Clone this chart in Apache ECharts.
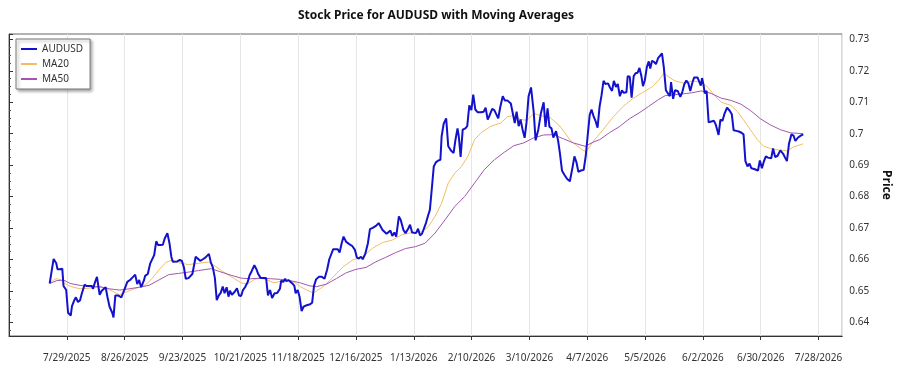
<!DOCTYPE html>
<html>
<head>
<meta charset="utf-8">
<title>AUDUSD</title>
<script src="https://cdn.jsdelivr.net/npm/echarts@6/dist/echarts.min.js"></script>
<style>
html,body{margin:0;padding:0;background:#fff;}
#chart{width:900px;height:375px;}
</style>
</head>
<body>
<div id="chart"></div>
<script>
// day offsets counted from 7/1/2025, price values
var baseDate = Date.UTC(2025, 6, 1);
var audusd = [
[19.7,0.6524],[21.6,0.6602],[22.9,0.6588],[23.5,0.6569],[24.8,0.6569],[25.8,0.6571],[26.4,0.6516],[27.7,0.6503],
[28.6,0.6431],[29.9,0.6422],[30.5,0.6452],[31.5,0.6469],[32.4,0.6480],[33.4,0.6465],[34.4,0.6471],[35.3,0.6493],
[36.6,0.6520],[37.6,0.6516],[38.8,0.6516],[40.1,0.6516],[40.7,0.6507],[41.7,0.6529],[42.6,0.6545],[43.9,0.6488],
[44.9,0.6501],[45.8,0.6505],[46.8,0.6512],[47.7,0.6480],[48.7,0.6450],[50.0,0.6431],[50.6,0.6416],[51.5,0.6486],
[52.8,0.6486],[54.4,0.6480],[55.7,0.6501],[57.3,0.6529],[58.6,0.6535],[60.1,0.6545],[61.1,0.6552],[62.1,0.6522],
[63.0,0.6535],[64.0,0.6512],[65.3,0.6533],[65.9,0.6548],[67.2,0.6554],[68.4,0.6588],[69.1,0.6582],[70.3,0.6614],
[71.3,0.6658],[72.2,0.6646],[73.2,0.6646],[74.5,0.6647],[75.4,0.6667],[76.7,0.6684],[77.7,0.6652],[78.6,0.6609],
[79.3,0.6593],[80.2,0.6593],[81.5,0.6594],[82.7,0.6599],[83.7,0.6596],[84.7,0.6575],[85.6,0.6539],[86.9,0.6541],
[88.8,0.6554],[90.4,0.6609],[91.3,0.6611],[92.6,0.6596],[93.9,0.6601],[95.2,0.6607],[96.1,0.6609],[96.8,0.6618],
[97.7,0.6592],[98.7,0.6575],[99.7,0.6541],[100.6,0.6471],[101.6,0.6486],[102.5,0.6494],[103.5,0.6514],[104.4,0.6493],
[105.4,0.6512],[106.3,0.6482],[107.0,0.6501],[107.9,0.6488],[109.2,0.6497],[110.4,0.6509],[111.4,0.6486],[112.4,0.6484],
[113.3,0.6503],[114.3,0.6512],[115.6,0.6529],[116.5,0.6550],[117.5,0.6563],[118.8,0.6582],[119.7,0.6571],[120.7,0.6554],
[121.9,0.6541],[123.2,0.6541],[124.5,0.6541],[125.4,0.6486],[126.4,0.6503],[127.4,0.6478],[128.6,0.6493],[129.9,0.6494],
[131.2,0.6507],[131.8,0.6533],[132.8,0.6529],[133.7,0.6539],[134.3,0.6531],[135.3,0.6535],[136.2,0.6529],[137.2,0.6524],
[138.2,0.6516],[138.8,0.6493],[139.8,0.6503],[140.7,0.6482],[141.7,0.6436],[142.6,0.6450],[144.2,0.6455],[145.8,0.6458],
[146.8,0.6463],[147.7,0.6516],[148.7,0.6537],[150.0,0.6545],[151.5,0.6545],[152.8,0.6539],[154.1,0.6569],[155.1,0.6601],
[156.0,0.6607],[157.0,0.6633],[157.9,0.6636],[159.2,0.6633],[160.1,0.6622],[161.1,0.6652],[162.0,0.6673],[163.3,0.6656],
[164.6,0.6650],[166.2,0.6643],[167.5,0.6631],[168.4,0.6607],[169.4,0.6603],[170.4,0.6609],[171.3,0.6601],[172.5,0.6618],
[173.8,0.6652],[174.8,0.6697],[176.1,0.6701],[177.7,0.6707],[179.0,0.6716],[179.9,0.6720],[180.9,0.6694],[181.8,0.6694],
[182.8,0.6682],[183.7,0.6688],[184.7,0.6692],[185.6,0.6675],[186.6,0.6686],[187.5,0.6673],[188.8,0.6737],[189.7,0.6726],
[191.0,0.6694],[192.0,0.6684],[193.3,0.6698],[194.2,0.6711],[195.2,0.6686],[196.1,0.6682],[197.1,0.6684],[198.1,0.6698],
[199.0,0.6677],[200.0,0.6682],[200.9,0.6688],[201.9,0.6716],[202.8,0.6737],[203.8,0.6758],[204.7,0.6822],[205.7,0.6896],
[206.7,0.6909],[207.9,0.6915],[208.9,0.6917],[209.5,0.6992],[210.5,0.7032],[211.7,0.7049],[212.7,0.6960],[214.0,0.6947],
[215.3,0.6939],[216.2,0.6981],[217.2,0.7017],[217.8,0.6992],[218.7,0.6926],[219.7,0.7013],[221.0,0.7017],[221.9,0.7024],
[222.9,0.7090],[223.9,0.7075],[224.8,0.7124],[225.8,0.7077],[227.0,0.7068],[228.6,0.7068],[229.9,0.7070],[230.8,0.7083],
[231.8,0.7045],[232.7,0.7058],[234.0,0.7079],[235.0,0.7075],[235.9,0.7070],[236.9,0.7049],[237.9,0.7085],[239.1,0.7119],
[240.1,0.7106],[241.3,0.7106],[243.0,0.7096],[243.9,0.7090],[244.9,0.7034],[245.8,0.7070],[246.8,0.7024],[247.7,0.7045],
[248.7,0.7013],[249.7,0.6987],[250.6,0.7036],[251.6,0.7119],[252.8,0.7147],[254.1,0.7068],[255.0,0.6979],[256.3,0.7013],
[257.6,0.7066],[258.9,0.7100],[259.8,0.7022],[260.8,0.7081],[261.7,0.7022],[262.7,0.7017],[263.6,0.6988],[264.9,0.7008],
[265.9,0.6978],[266.8,0.6937],[267.8,0.6882],[269.0,0.6869],[270.3,0.6856],[271.6,0.6849],[272.9,0.6894],[273.8,0.6928],
[274.8,0.6909],[275.7,0.6879],[277.0,0.6883],[278.3,0.6885],[279.3,0.6930],[280.2,0.6992],[281.2,0.7060],[282.1,0.7077],
[283.1,0.7055],[284.0,0.7041],[285.0,0.7019],[286.0,0.7087],[286.9,0.7121],[287.9,0.7168],[288.8,0.7158],[290.1,0.7160],
[291.0,0.7147],[292.0,0.7136],[292.9,0.7168],[293.9,0.7149],[294.8,0.7158],[295.8,0.7119],[296.8,0.7138],[297.7,0.7130],
[299.0,0.7132],[299.6,0.7183],[300.6,0.7181],[301.5,0.7115],[302.5,0.7183],[303.4,0.7192],[304.4,0.7194],[305.3,0.7209],
[306.3,0.7181],[307.0,0.7151],[307.9,0.7170],[308.9,0.7213],[309.8,0.7230],[310.5,0.7207],[311.4,0.7232],[312.4,0.7228],
[313.3,0.7221],[314.3,0.7240],[315.2,0.7234],[316.2,0.7255],[317.1,0.7211],[318.1,0.7138],[319.1,0.7128],[320.0,0.7119],
[320.6,0.7164],[321.6,0.7111],[322.5,0.7138],[323.8,0.7136],[325.1,0.7117],[326.1,0.7134],[327.0,0.7157],[328.0,0.7169],
[329.0,0.7160],[329.9,0.7136],[330.9,0.7162],[331.8,0.7179],[333.4,0.7179],[334.0,0.7179],[335.0,0.7153],[335.6,0.7177],
[336.3,0.7156],[336.9,0.7128],[337.8,0.7136],[338.8,0.7036],[340.1,0.7039],[341.4,0.7041],[342.3,0.7028],[343.6,0.6996],
[344.5,0.7045],[345.5,0.7041],[346.4,0.7062],[347.7,0.7083],[349.0,0.7073],[350.0,0.7062],[350.9,0.7011],[352.2,0.7009],
[353.4,0.7007],[354.7,0.7003],[355.7,0.6998],[356.6,0.6913],[357.6,0.6896],[358.6,0.6905],[359.5,0.6890],[360.8,0.6888],
[361.7,0.6888],[362.7,0.6883],[363.6,0.6915],[364.6,0.6890],[365.5,0.6911],[366.5,0.6928],[367.5,0.6924],[368.4,0.6930],
[369.1,0.6922],[370.0,0.6953],[371.0,0.6926],[372.2,0.6930],[373.5,0.6947],[374.8,0.6937],[375.8,0.6924],[376.7,0.6913],
[377.7,0.6968],[378.9,0.6998],[379.9,0.6994],[380.8,0.6977],[382.1,0.6988],[383.4,0.6994],[384.6,0.6998]
];
var ma20 = [
[19.7,0.6524],[21.9,0.6537],[23.5,0.6539],[25.1,0.6535],[26.7,0.6526],[28.6,0.6518],[31.2,0.6512],[34.4,0.6507],
[39.1,0.6509],[43.9,0.6512],[47.1,0.6509],[50.3,0.6499],[53.5,0.6488],[56.7,0.6497],[59.8,0.6505],[63.0,0.6512],
[66.2,0.6520],[69.4,0.6541],[72.6,0.6567],[75.8,0.6590],[78.9,0.6599],[82.1,0.6590],[86.9,0.6584],[91.7,0.6588],
[96.5,0.6592],[99.7,0.6580],[102.8,0.6565],[106.0,0.6552],[109.2,0.6539],[112.4,0.6526],[115.6,0.6522],[118.8,0.6537],
[121.9,0.6541],[125.1,0.6535],[128.3,0.6526],[131.5,0.6531],[134.7,0.6533],[137.9,0.6529],[141.0,0.6514],[144.2,0.6503],
[147.4,0.6494],[152.2,0.6514],[157.0,0.6545],[161.8,0.6577],[166.5,0.6599],[171.3,0.6609],[176.1,0.6636],[180.9,0.6654],
[185.6,0.6662],[190.4,0.6679],[195.2,0.6686],[200.0,0.6688],[203.1,0.6705],[206.3,0.6737],[209.5,0.6779],[212.7,0.6843],
[215.9,0.6875],[219.1,0.6896],[222.2,0.6928],[225.4,0.6981],[228.6,0.7003],[233.4,0.7024],[238.2,0.7034],[241.3,0.7054],
[244.5,0.7058],[247.7,0.7045],[250.9,0.7043],[254.1,0.7064],[257.3,0.7058],[262.1,0.7051],[266.8,0.7024],[271.6,0.6981],
[273.2,0.6971],[278.0,0.6947],[279.6,0.6943],[282.8,0.6975],[287.5,0.7011],[292.3,0.7051],[297.1,0.7085],[301.9,0.7111],
[306.6,0.7130],[311.4,0.7149],[314.6,0.7170],[317.1,0.7192],[319.4,0.7181],[322.5,0.7168],[327.3,0.7160],[330.5,0.7168],
[335.3,0.7164],[338.5,0.7147],[341.7,0.7121],[344.9,0.7100],[349.6,0.7090],[352.8,0.7070],[356.0,0.7041],[359.2,0.7011],
[362.4,0.6981],[365.5,0.6960],[368.7,0.6953],[371.9,0.6949],[375.1,0.6947],[376.7,0.6945],[379.9,0.6958],[384.6,0.6968]
];
var ma50 = [
[19.7,0.6524],[23.2,0.6533],[26.4,0.6535],[29.6,0.6524],[34.4,0.6518],[39.1,0.6514],[43.9,0.6514],[48.7,0.6507],
[53.5,0.6503],[58.2,0.6507],[63.0,0.6512],[67.8,0.6518],[72.6,0.6535],[77.3,0.6552],[82.1,0.6556],[86.9,0.6560],
[91.7,0.6565],[98.0,0.6571],[102.8,0.6560],[107.6,0.6550],[112.4,0.6541],[117.1,0.6539],[121.9,0.6541],[126.7,0.6539],
[131.5,0.6537],[136.2,0.6533],[141.0,0.6526],[145.8,0.6516],[149.0,0.6514],[153.8,0.6522],[158.6,0.6540],[163.3,0.6558],
[168.1,0.6569],[172.9,0.6575],[177.7,0.6593],[182.4,0.6607],[187.2,0.6622],[192.0,0.6635],[196.8,0.6641],[201.5,0.6652],
[206.3,0.6684],[211.1,0.6726],[215.9,0.6769],[220.6,0.6800],[225.4,0.6843],[230.2,0.6886],[235.0,0.6917],[239.8,0.6941],
[244.5,0.6962],[249.3,0.6971],[254.1,0.6987],[258.9,0.6996],[263.6,0.6997],[268.4,0.6984],[273.2,0.6971],[279.0,0.6960],
[282.8,0.6973],[286.0,0.6981],[290.7,0.7003],[295.5,0.7022],[300.3,0.7047],[305.1,0.7066],[309.8,0.7087],[314.6,0.7109],
[317.8,0.7121],[322.5,0.7124],[328.1,0.7128],[330.5,0.7130],[335.3,0.7136],[340.1,0.7128],[344.9,0.7113],[349.6,0.7106],
[354.4,0.7094],[359.2,0.7073],[364.0,0.7047],[368.7,0.7028],[373.5,0.7013],[378.3,0.7003],[384.6,0.7000]
];
var seriesNames = ['AUDUSD', 'MA20', 'MA50'];
var seriesColors = ['#1212cc', '#f3bd63', '#a256ae'];

function dayLabel(v){
	var d = new Date(baseDate + Math.round(v) * 86400000);
	return (d.getUTCMonth() + 1) + '/' + d.getUTCDate() + '/' + d.getUTCFullYear();
}

function loadChart(){
	var myChart = echarts.init(document.getElementById('chart'));
	var font = 'Noto Sans';
	var option = {
		animation: false,
		title: {
			text: 'Stock Price for AUDUSD with Moving Averages',
			left: 431,
			top: 5,
			textAlign: 'center',
			textStyle: {fontFamily: font, fontSize: 12, fontWeight: 'bold', color: '#111'}
		},
		legend: {
			orient: 'vertical',
			left: 16,
			top: 39,
			data: seriesNames,
			itemWidth: 16,
			itemHeight: 10,
			itemGap: 5,
			padding: [5, 7, 5, 4],
			backgroundColor: '#fff',
			borderColor: '#777',
			borderWidth: 1,
			borderRadius: 0,
			shadowColor: 'rgba(0,0,0,0.35)',
			shadowBlur: 3,
			shadowOffsetX: 2,
			shadowOffsetY: 2,
			itemStyle: {opacity: 0},
			textStyle: {fontFamily: font, fontSize: 10, color: '#333'}
		},
		grid: {
			left: 9,
			right: 48,
			top: 34,
			bottom: 39,
			show: true,
			borderColor: '#666',
			borderWidth: 1
		},
		xAxis: {
			type: 'value',
			min: 0,
			max: 403.5,
			interval: 28,
			axisLine: {lineStyle: {color: '#333'}},
			axisTick: {length: 4, lineStyle: {color: '#333'}},
			splitLine: {show: true, lineStyle: {color: '#e6e6e6'}},
			axisLabel: {
				margin: 17,
				showMinLabel: false,
				showMaxLabel: false,
				fontFamily: font,
				fontSize: 10,
				color: '#333',
				formatter: dayLabel
			}
		},
		yAxis: {
			type: 'value',
			position: 'right',
			min: 0.6357,
			max: 0.7317,
			splitNumber: 10,
			name: 'Price',
			nameLocation: 'middle',
			nameRotate: -90,
			nameGap: 34,
			nameTextStyle: {fontFamily: font, fontSize: 12, fontWeight: 'bold', color: '#111'},
			axisLine: {show: true, lineStyle: {color: '#333'}},
			axisTick: {show: true, length: 4, lineStyle: {color: '#333'}},
			minorTick: {show: true, splitNumber: 4, length: 2, lineStyle: {color: '#555'}},
			splitLine: {show: false},
			axisLabel: {
				margin: 7,
				showMinLabel: false,
				showMaxLabel: false,
				fontFamily: font,
				fontSize: 10,
				color: '#333',
				formatter: function(v){ return String(Math.round(v * 100) / 100); }
			}
		},
		series: [
			{name: seriesNames[0], type: 'line', data: audusd, symbol: 'none', z: 3,
				lineStyle: {width: 2, color: seriesColors[0]}, itemStyle: {color: seriesColors[0]}},
			{name: seriesNames[1], type: 'line', data: ma20, symbol: 'none', z: 2,
				lineStyle: {width: 1, color: seriesColors[1]}, itemStyle: {color: seriesColors[1]}},
			{name: seriesNames[2], type: 'line', data: ma50, symbol: 'none', z: 2,
				lineStyle: {width: 1, color: seriesColors[2]}, itemStyle: {color: seriesColors[2]}}
		]
	};
	myChart.setOption(option);
}
loadChart();
</script>
</body>
</html>
